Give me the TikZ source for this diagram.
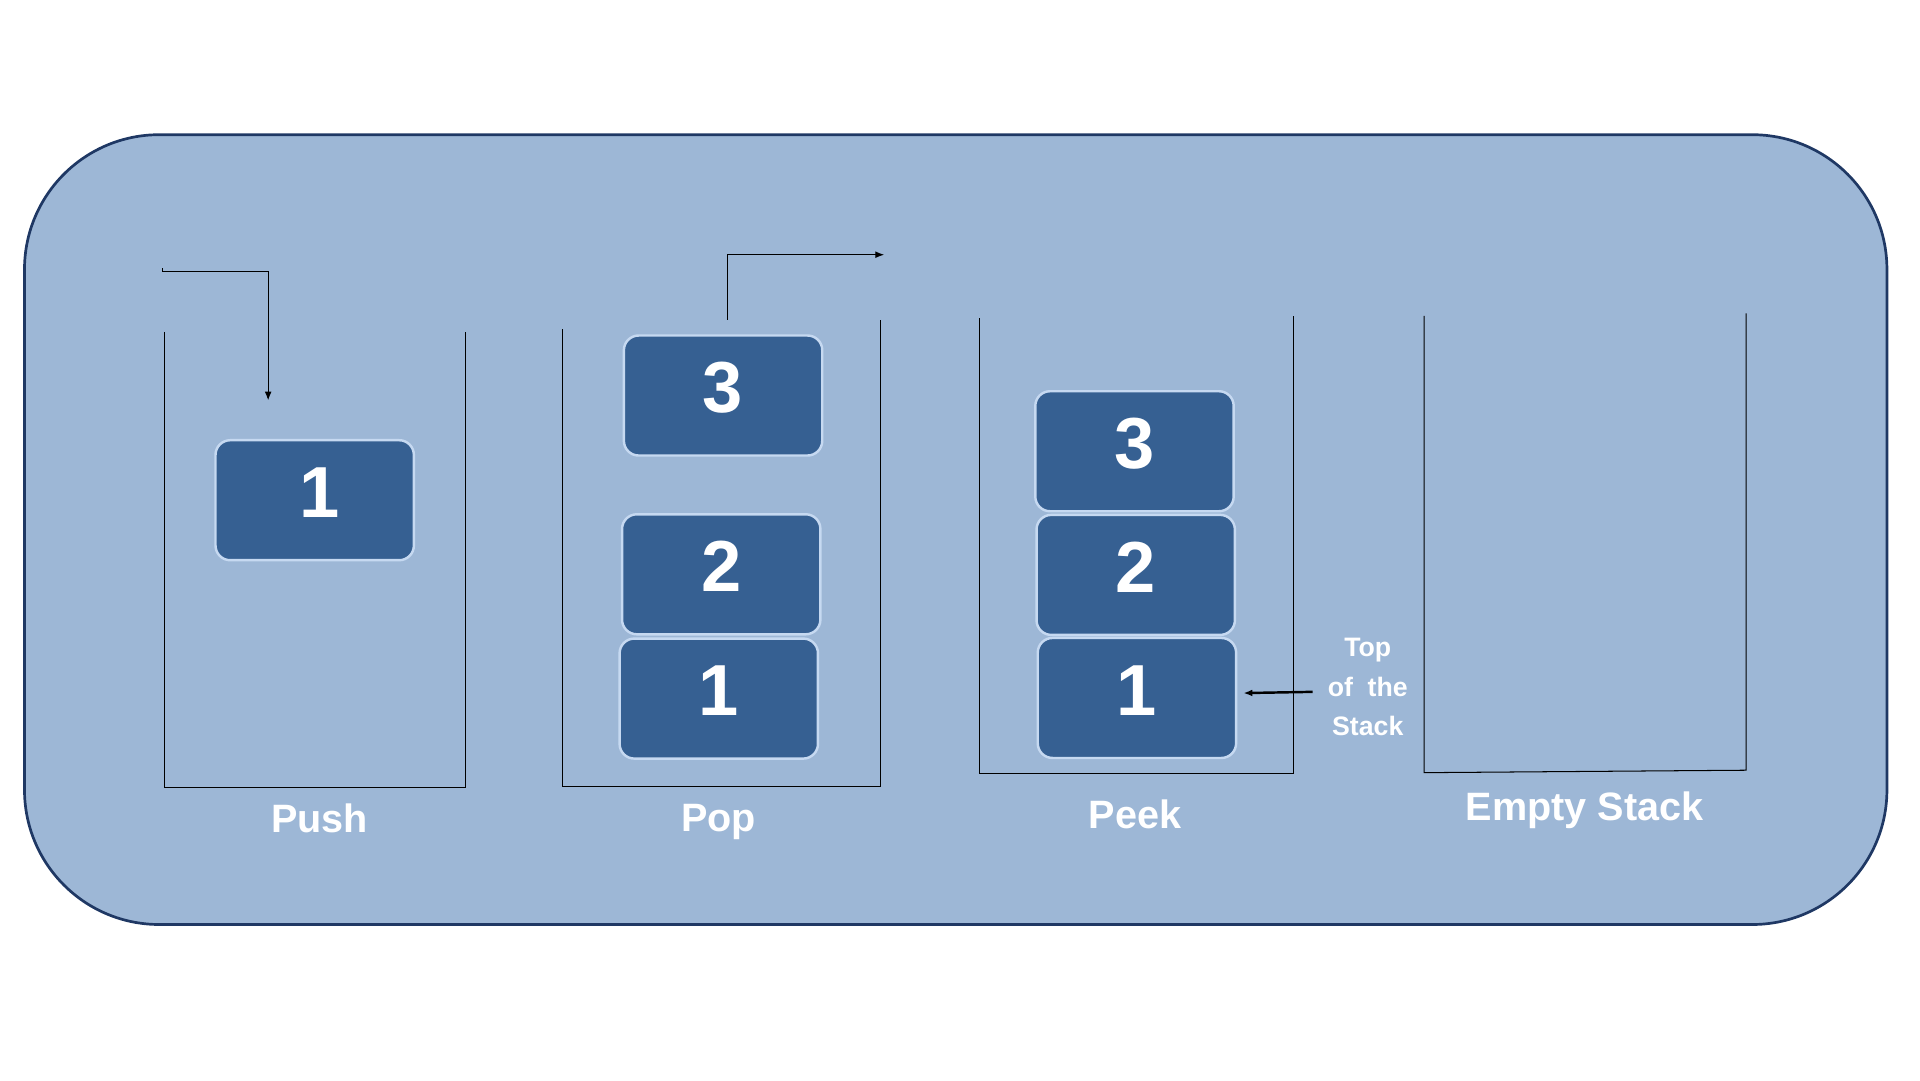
\documentclass[tikz,border=0pt]{standalone}
\usepackage{fontspec}
\setmainfont{Liberation Sans}
\usetikzlibrary{positioning,calc,arrows.meta}
\definecolor{panel}{HTML}{9DB7D6}
\definecolor{panelline}{HTML}{1F3864}
\definecolor{blkfill}{HTML}{366092}
\definecolor{blkline}{HTML}{C6D9F1}
\tikzset{
  blk/.style={draw=blkline,line width=0.5mm,fill=blkfill,rounded corners=3mm,
    minimum width=40.5mm,minimum height=24.5mm,inner sep=0pt,
    text height=10.5mm,text depth=3.5mm,
    text=white,font=\fontsize{42}{44}\selectfont\bfseries},
  lbl/.style={text=white,font=\fontsize{23}{26}\selectfont\bfseries},
  wall/.style={line width=0.6pt},
  tip/.style={-{Latex[length=1.8mm,width=1.4mm]}},
}
\begin{document}
\begin{tikzpicture}[x=0.25mm,y=-0.25mm]
  \useasboundingbox (0,0) rectangle (1568,882);
  \draw[panelline,fill=panel,line width=0.55mm,rounded corners=27.5mm] (20,110) rectangle (1541,755);
  % push
  \draw[wall] (134,271) -- (134,643) -- (380,643) -- (380,271);
  \node[blk] (push1) at (257,408.5) {\hspace{2mm}1};
  \draw[wall,tip] (133,219) -- (133,222) -- (219,222) -- (219,327);
  \node[lbl] (pushlbl) at (261,668) {Push};
  % pop
  \draw[wall] (459,269) -- (459,642) -- (719,642) -- (719,261);
  \node[blk] (pop3) at (590.5,323) {3};
  \node[blk] (pop2) at (589,469) {2};
  \node[blk] (pop1) at (587,570.5) {1};
  \draw[wall,tip] ([xshift=0.9mm,yshift=3mm]pop3.north) |- (722,208);
  \node[lbl] (poplbl) at (587,671) {Pop};
  % peek
  \draw[wall] (800,260) -- (800,632) -- (1056,632) -- (1056,258);
  \node[blk] (peek3) at (926.5,368.5) {3};
  \node[blk] (peek2) at (927.5,469.5) {2};
  \node[blk] (peek1) at (928.5,570) {1};
  \node[text=white,align=center,inner sep=0pt,font=\fontsize{15.5}{23}\selectfont\bfseries]
    (note) at (1117,561) {Top\\of\ \ the\\Stack};
  \draw[line width=0.5mm,tip] ([xshift=-3mm,yshift=-1mm]note.west) -- ([xshift=1.25mm,yshift=1mm]peek1.east);
  \node[lbl] (peeklbl) at (927,665) {Peek};
  % empty
  \draw[wall] (1163,258) -- (1163,631) -- (1426,629) -- (1426,256);
  \node[lbl] (emptylbl) at (1294,662) {Empty Stack};
\end{tikzpicture}
\end{document}
